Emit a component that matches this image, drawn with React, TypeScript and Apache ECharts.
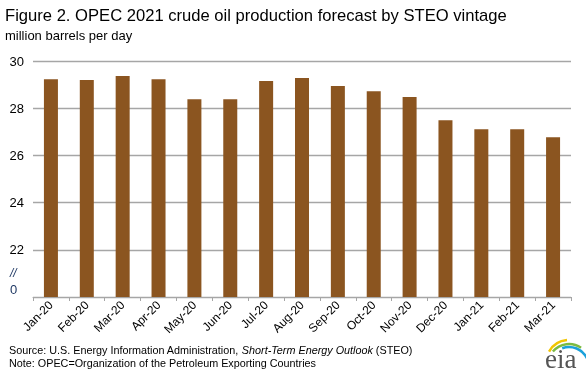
import React, { useEffect, useRef } from "react";
import * as echarts from "echarts";

const categories = ["Jan-20", "Feb-20", "Mar-20", "Apr-20", "May-20", "Jun-20", "Jul-20", "Aug-20", "Sep-20", "Oct-20", "Nov-20", "Dec-20", "Jan-21", "Feb-21", "Mar-21"];
const production = [29.23, 29.19, 29.36, 29.23, 28.38, 28.38, 29.15, 29.28, 28.94, 28.72, 28.47, 27.49, 27.11, 27.11, 26.77];
const yMin = 20;
const yMax = 30;
const yInterval = 2;

const titleText = "Figure 2. OPEC 2021 crude oil production forecast by STEO vintage";
const unitText = "million barrels per day";
const noteText = "Note: OPEC=Organization of the Petroleum Exporting Countries";

export default function App() {
  const ref = useRef<HTMLDivElement>(null);
  useEffect(() => {
    if (!ref.current) return;
    const chart = echarts.init(ref.current, null, { renderer: "svg" });
    const font = "Arial, 'Liberation Sans', sans-serif";
    chart.setOption({
      animation: false,
      textStyle: { fontFamily: font },
      grid: { left: 33, right: 15, top: 61, bottom: 82, containLabel: false },
      xAxis: {
        type: "category",
        data: categories,
        axisLine: { show: true, lineStyle: { color: "#a6a6a6", width: 1 } },
        axisTick: { show: true, alignWithLabel: false, length: 4, lineStyle: { color: "#a6a6a6" } },
        axisLabel: { rotate: 45, fontSize: 12, color: "#000", fontFamily: font, margin: 6, interval: 0 },
      },
      yAxis: {
        type: "value",
        min: yMin,
        max: yMax,
        interval: yInterval,
        axisLine: { show: false },
        axisTick: { show: false },
        splitLine: { lineStyle: { color: "#a6a6a6", width: 1.3 } },
        axisLabel: {
          fontSize: 13,
          color: "#000",
          fontFamily: font,
          margin: 9,
          formatter: (v: number) => (v === yMin ? "" : String(v)),
        },
      },
      series: [
        {
          type: "bar",
          data: production,
          barWidth: 14,
          itemStyle: { color: "#8b5520" },
        },
      ],
      graphic: [
        { type: "text", left: 5, top: 7, style: { text: titleText, fontSize: 16.6, fill: "#000", fontFamily: font } },
        { type: "text", left: 5, top: 29, style: { text: unitText, fontSize: 13, fill: "#000", fontFamily: font } },
        { type: "text", left: 10, top: 267, style: { text: "//", fontSize: 12, fontStyle: "italic", fill: "#1f3864", fontFamily: font } },
        { type: "text", left: 10, top: 283, style: { text: "0", fontSize: 13, fill: "#1f3864", fontFamily: font } },
        {
          type: "text",
          left: 9,
          top: 344,
          style: {
            text: "{n|Source: U.S. Energy Information Administration, }{i|Short-Term Energy Outlook}{n| (STEO)}",
            rich: {
              n: { fontSize: 10.8, fill: "#000", fontFamily: font },
              i: { fontSize: 10.8, fill: "#000", fontFamily: font, fontStyle: "italic" },
            },
          },
        },
        { type: "text", left: 9, top: 357, style: { text: noteText, fontSize: 10.8, fill: "#000", fontFamily: font } },
        { type: "text", left: 545, top: 345, style: { text: "eia", fontSize: 27, fill: "#555", fontFamily: "'Liberation Serif', 'DejaVu Serif', serif" } },
        { type: "arc", shape: { cx: 569, cy: 363, r: 23, startAngle: (-150 * Math.PI) / 180, endAngle: (-95 * Math.PI) / 180 }, style: { stroke: "#f2c500", lineWidth: 2.5, fill: "none" } },
        { type: "arc", shape: { cx: 569, cy: 365, r: 21, startAngle: (-140 * Math.PI) / 180, endAngle: (-55 * Math.PI) / 180 }, style: { stroke: "#7cbb42", lineWidth: 2.5, fill: "none" } },
        { type: "arc", shape: { cx: 569, cy: 367, r: 20, startAngle: (-110 * Math.PI) / 180, endAngle: (-25 * Math.PI) / 180 }, style: { stroke: "#1ba1db", lineWidth: 2.5, fill: "none" } },
      ],
    });
    return () => chart.dispose();
  }, []);
  return <div ref={ref} style={{ width: 586, height: 379, position: "fixed", left: 0, top: 0 }} />;
}
